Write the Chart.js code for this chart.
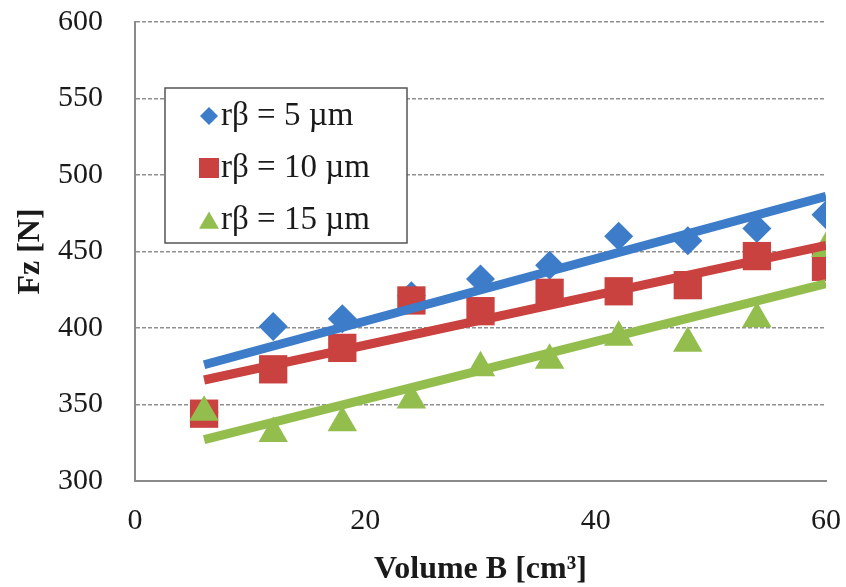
<!DOCTYPE html>
<html><head><meta charset="utf-8">
<script src="https://cdn.jsdelivr.net/npm/chart.js@4.4.0/dist/chart.umd.min.js"></script>
<style>html,body{margin:0;padding:0;background:#fff;}#wrap{width:846px;height:587px;position:relative;}</style>
</head><body><div id="wrap"><canvas id="c" width="846" height="587"></canvas></div>
<script>
// ---- data ----
const volumes = [6, 12, 18, 24, 30, 36, 42, 48, 54, 60];
const seriesNames = ['rβ = 5 µm', 'rβ = 10 µm', 'rβ = 15 µm'];
const fz5  = [345, 401, 406, 421, 432, 441, 460, 457, 465, 474];
const fz10 = [344, 373, 387, 418, 411, 423, 424, 428, 447, 440];
const fz15 = [345, 331, 338, 353, 374, 379, 394, 390, 406, 452];
const trendX = [6, 60];
const trend5  = [376, 486];
const trend10 = [366, 454];
const trend15 = [327, 429];
const xTicks = [0, 20, 40, 60];
const yTicks = [300, 350, 400, 450, 500, 550, 600];
const xTitle = 'Volume B [cm³]';
const yTitle = 'Fz [N]';

const colors = ['#3D7CC9', '#C9423F', '#93BE4E'];
const styles = ['rectRot', 'rect', 'triangle'];
const radii = [14.5, 20, 17];
const serif = "'Liberation Serif', 'Times New Roman', serif";

const pts = (xs, ys) => xs.map((x, i) => ({x: x, y: ys[i]}));
const seriesVals = [fz5, fz10, fz15];
const trends = [trend5, trend10, trend15];

const datasets = [];
seriesVals.forEach((vals, i) => {
  datasets.push({
    label: seriesNames[i], data: pts(volumes, vals), showLine: false,
    pointStyle: styles[i], pointRadius: radii[i], pointHoverRadius: radii[i],
    backgroundColor: colors[i], borderColor: colors[i], pointBorderWidth: 0,
    order: 3 - i
  });
});
trends.forEach((t, i) => {
  datasets.push({
    label: 'trend ' + seriesNames[i], data: pts(trendX, t), showLine: true,
    pointRadius: 0, borderColor: colors[i], borderWidth: 9, fill: false,
    borderCapStyle: 'butt', order: 0
  });
});

function drawMarker(ctx, style, x, y, r, color) {
  ctx.save();
  ctx.fillStyle = color;
  ctx.beginPath();
  if (style === 'rectRot') {
    ctx.moveTo(x, y - r); ctx.lineTo(x + r, y); ctx.lineTo(x, y + r); ctx.lineTo(x - r, y);
  } else if (style === 'rect') {
    ctx.rect(x - r, y - r, 2 * r, 2 * r);
  } else {
    ctx.moveTo(x, y - r); ctx.lineTo(x + r * 0.866, y + r * 0.5); ctx.lineTo(x - r * 0.866, y + r * 0.5);
  }
  ctx.closePath();
  ctx.fill();
  ctx.restore();
}

const legendBox = {
  id: 'legendBox',
  afterDraw(chart) {
    const ctx = chart.ctx;
    ctx.save();
    ctx.fillStyle = '#ffffff';
    ctx.fillRect(165, 88, 242, 155);
    ctx.strokeStyle = '#555555';
    ctx.lineWidth = 1.5;
    ctx.strokeRect(165, 88, 242, 155);
    const rows = [125, 177, 229];
    const lr = [9, 10, 11.5];
    const cy = [116, 168, 223];
    ctx.font = '33px ' + serif;
    ctx.textBaseline = 'alphabetic';
    ctx.textAlign = 'left';
    seriesNames.forEach((name, i) => {
      drawMarker(ctx, styles[i], 209, cy[i], lr[i], colors[i]);
      ctx.fillStyle = '#1a1a1a';
      ctx.fillText(name, 221, rows[i]);
    });
    ctx.restore();
  }
};

new Chart(document.getElementById('c'), {
  type: 'scatter',
  data: { datasets: datasets },
  plugins: [legendBox],
  options: {
    responsive: false,
    animation: false,
    devicePixelRatio: 1,
    layout: { padding: { left: 0, right: 20, top: 22, bottom: 0 } },
    plugins: { legend: { display: false }, tooltip: { enabled: false } },
    scales: {
      x: {
        type: 'linear', min: 0, max: 60,
        afterBuildTicks: s => { s.ticks = xTicks.map(v => ({value: v})); },
        afterFit: s => { s.height = 106; s.paddingLeft = 0; s.paddingRight = 0; },
        grid: { display: false, drawTicks: false },
        border: { display: true, color: '#8a8a8a', width: 2 },
        ticks: { color: '#1a1a1a', padding: 22, maxRotation: 0, autoSkip: false,
                 font: { family: serif, size: 30 } },
        title: { display: true, text: xTitle, color: '#1a1a1a', padding: { top: 0, bottom: 0 },
                 font: { family: serif, size: 32, weight: 'bold', lineHeight: 1.1 } }
      },
      y: {
        type: 'linear', min: 300, max: 600,
        afterBuildTicks: s => { s.ticks = yTicks.map(v => ({value: v})); },
        afterFit: s => { s.width = 135; s.paddingTop = 0; s.paddingBottom = 0; },
        grid: { color: '#8f8f8f', lineWidth: 1.5, drawTicks: false },
        border: { display: true, color: '#8a8a8a', width: 2, dash: [4, 2] },
        ticks: { color: '#1a1a1a', padding: 32, autoSkip: false,
                 font: { family: serif, size: 30 } },
        title: { display: true, text: yTitle, color: '#1a1a1a', padding: { top: 13, bottom: 0 },
                 font: { family: serif, size: 32, weight: 'bold', lineHeight: 1.1 } }
      }
    }
  }
});
</script></body></html>
